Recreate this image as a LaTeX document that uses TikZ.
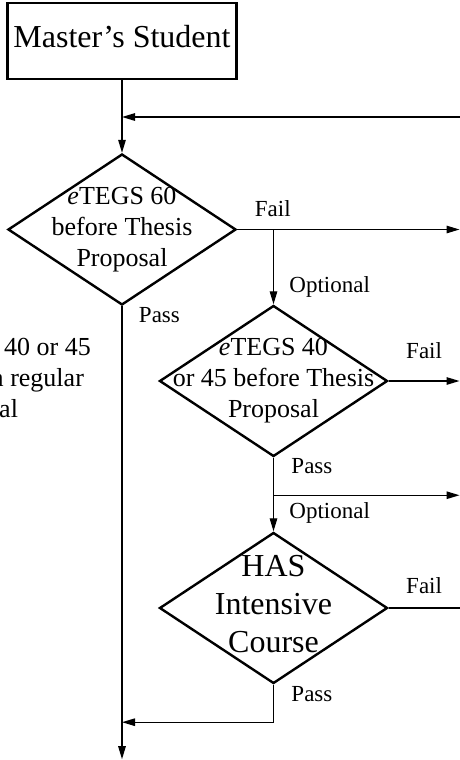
\documentclass[tikz,border=0pt]{standalone}
\usepackage{fontspec}
\setmainfont{Liberation Serif}
\usetikzlibrary{positioning,shapes.geometric,arrows.meta}

\begin{document}
\begin{tikzpicture}[x=1pt,y=1pt,on grid,>={Triangle[length=13pt,width=7.5pt]},
    box/.style={rectangle,draw,line width=2.4pt,minimum width=229pt,minimum height=76pt,
        inner sep=0pt,text depth=10pt,font=\fontsize{32}{38}\selectfont},
    decide/.style={diamond,draw,line width=2.4pt,minimum width=228pt,minimum height=151pt,inner sep=0pt},
    inside/.style={align=center,font=\fontsize{26}{31}\selectfont},
    lbl/.style={font=\fontsize{23}{27}\selectfont},
    flow/.style={->,line width=1.3pt}]

    \useasboundingbox (0,0) rectangle (460,-760);
    \clip (0,0) rectangle (460,-760);

    \node[box] (start) at (122,-41) {Master's Student};
    \node[decide, below=188.5pt of start,
        label={[inside]center:{\textit{e}TEGS 60\\before Thesis\\Proposal}}] (d60) {};
    \node[decide, below right=151.5pt and 151.5pt of d60,
        label={[inside]center:{\textit{e}TEGS 40\\or 45 before Thesis\\Proposal}}] (d40) {};
    \node[decide, below=227pt of d40,
        label={[inside,font=\fontsize{32}{38}\selectfont,yshift=4pt]center:{HAS\\Intensive\\Course}}] (has) {};

    % text running in from the left
    \node[inside, align=left, anchor=base west] (side) at (-11.3,-417)
        {\hspace*{12pt}40 or 45\\a regular\\\hspace*{7pt}al};

    \coordinate (rim) at (459.5,0);
    \coordinate (back) at (462,-117);
    \coordinate[below=453pt of d60.south] (finish);
    \coordinate[below=416pt of d60.south] (rejoin);

    \draw[flow] (start) -- (d60);
    \draw[flow] (back) -- (back -| d60.north);
    \draw[flow] (d60.east) -- node[lbl, pos=0.16, above=9pt] (fail60) {Fail} (d60.east -| rim);
    \draw[flow] (d60.east -| d40.north) -- node[lbl, pos=0.77, right=12pt] (opt60) {Optional} (d40);
    \draw[flow] (d60.south) -- node[lbl, pos=0.02, right=13pt] (pass60) {Pass} (finish);

    \draw[flow] (d40.east) -- node[lbl, pos=0.5, above=18pt] (fail40) {Fail} (d40.east -| rim);
    \draw[flow] (d40.south) -- node[lbl, pos=0.11, right=14pt] (pass40) {Pass}
        coordinate[pos=0.51] (split)
        node[lbl, pos=0.75, right=12pt] (opt40) {Optional} (has);
    \draw[flow] (split) -- (split -| rim);

    \draw[line width=1.3pt] (has.east) -- node[lbl, pos=0.5, above=10pt] (failhas) {Fail} (has.east -| rim);
    \draw[flow] (has.south) |- node[lbl, pos=0.125, right=14pt] (passhas) {Pass} (rejoin);
\end{tikzpicture}
\end{document}
